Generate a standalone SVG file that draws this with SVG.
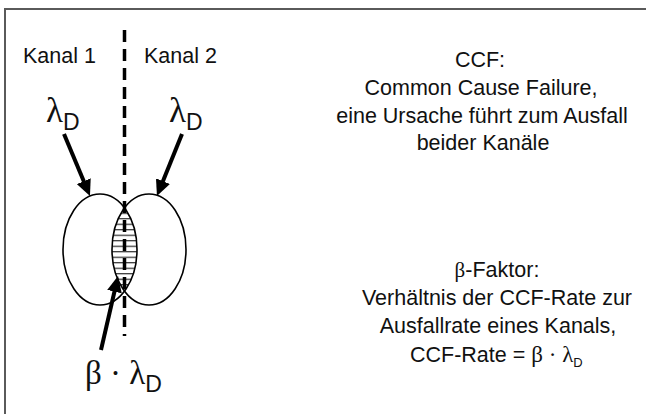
<svg xmlns="http://www.w3.org/2000/svg" width="646" height="414" viewBox="0 0 646 414">
<style>
.t{font-family:"Liberation Sans",Arial,sans-serif;fill:#111;}
.g{font-family:"Liberation Serif","Times New Roman",serif;fill:#111;}
.lbl{font-size:21.5px;}
.body{font-size:21.5px;text-anchor:middle;}
.ell{fill:none;stroke:#000;stroke-width:1.6;}
.arr{stroke:#000;stroke-width:4;fill:none;marker-end:url(#ah);}
</style>
<defs>
<marker id="ah" markerUnits="userSpaceOnUse" markerWidth="17" markerHeight="15" refX="6" refY="7.5" orient="auto">
<path d="M0,0 L16,7.5 L0,15 z" fill="#000"/>
</marker>
<pattern id="hatch" patternUnits="userSpaceOnUse" width="10" height="5.5">
<line x1="0" y1="4.3" x2="10" y2="4.3" stroke="#000" stroke-width="1"/>
</pattern>
<clipPath id="clipL"><ellipse cx="100" cy="249.5" rx="37" ry="55.5"/></clipPath>
<clipPath id="clipR"><ellipse cx="149" cy="249.5" rx="37" ry="55.5"/></clipPath>
</defs>
<rect x="5" y="9" width="700" height="450" fill="#fff" stroke="#5a5a5a" stroke-width="2"/>

<g id="kanal1"><text class="t lbl" x="23" y="63">Kanal 1</text></g>
<g id="kanal2"><text class="t lbl" x="144" y="63">Kanal 2</text></g>

<g id="lambda1"><text x="46" y="122"><tspan class="g" font-size="35">λ</tspan><tspan class="t" font-size="23" dy="8">D</tspan></text></g>
<g id="lambda2"><text x="169" y="122"><tspan class="g" font-size="35">λ</tspan><tspan class="t" font-size="23" dy="8">D</tspan></text></g>

<g id="channel1"><ellipse class="ell" cx="100" cy="249.5" rx="37" ry="55.5"/></g>
<g id="channel2"><ellipse class="ell" cx="149" cy="249.5" rx="37" ry="55.5"/></g>
<g id="ccf-overlap">
<g clip-path="url(#clipL)"><g clip-path="url(#clipR)"><rect x="105" y="200" width="40" height="100" fill="url(#hatch)"/></g></g>
</g>

<g id="divider"><line x1="124.5" y1="30" x2="124.5" y2="336" stroke="#000" stroke-width="3.5" stroke-dasharray="12 7"/></g>

<g id="connectors">
<line class="arr" x1="64" y1="134" x2="86.1" y2="186.8"/>
<line class="arr" x1="182" y1="134" x2="160.7" y2="186.7"/>
<line class="arr" x1="101" y1="350" x2="115.8" y2="285.8"/>
</g>

<g id="beta-lambda"><text x="85" y="384"><tspan class="g" font-size="33">β · λ</tspan><tspan class="t" font-size="23" dy="8">D</tspan></text></g>

<g id="ccf-text">
<text class="t body" x="480" y="67">CCF:</text>
<text class="t body" x="481" y="95">Common Cause Failure,</text>
<text class="t body" x="482" y="122.5">eine Ursache führt zum Ausfall</text>
<text class="t body" x="483" y="150">beider Kanäle</text>
</g>

<g id="beta-text">
<text class="body" x="497" y="277"><tspan class="g" font-size="21">β</tspan><tspan class="t">-Faktor:</tspan></text>
<text class="t body" x="497" y="305">Verhältnis der CCF-Rate zur</text>
<text class="t body" x="498" y="333">Ausfallrate eines Kanals,</text>
<text x="410" y="362"><tspan class="t lbl">CCF-Rate = </tspan><tspan class="g" font-size="23">β · λ</tspan><tspan class="t" font-size="13" dy="5">D</tspan></text>
</g>
</svg>
